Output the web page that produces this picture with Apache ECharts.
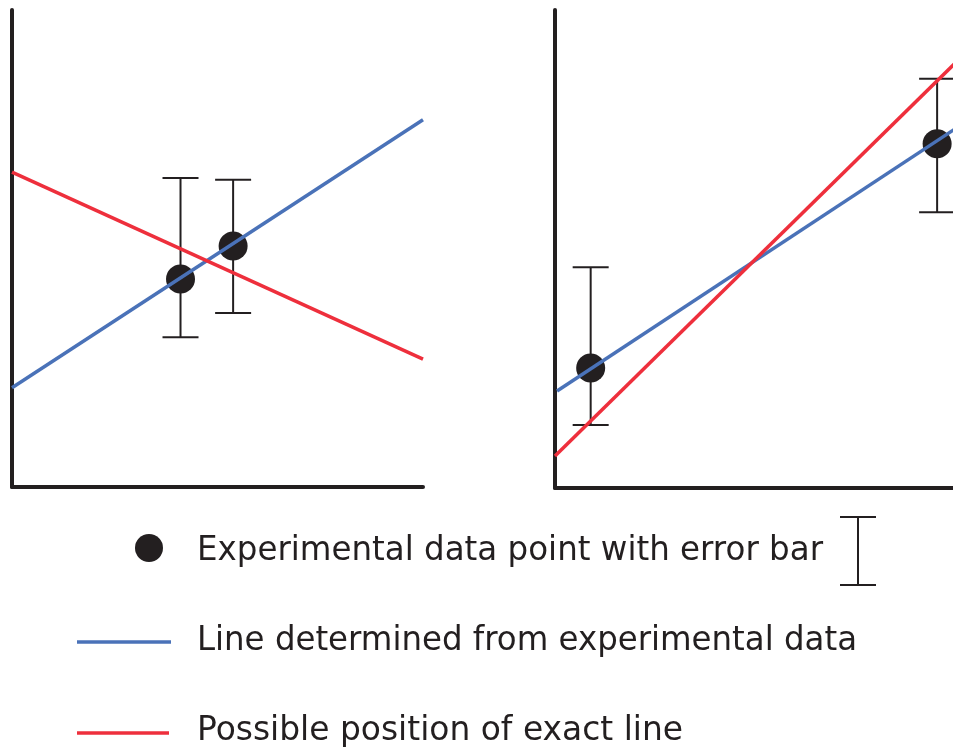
<!DOCTYPE html>
<html>
<head>
<meta charset="utf-8">
<script src="https://cdn.jsdelivr.net/npm/echarts@6/dist/echarts.min.js"></script>
<style>
html,body{margin:0;padding:0;background:#fff;}
#chart{width:953px;height:750px;}
</style>
</head>
<body>
<div id="chart"></div>
<script>
// ---- Data (axis units 0..100) ----
// Left panel
const leftPoints = [[41.0, 43.6], [53.8, 50.5]];
const leftErrors = [[41.0, 31.4, 64.8], [53.8, 36.5, 64.4]];
const leftFitLine = [[0, 20.8], [100, 77.0]];
const leftExactLine = [[0, 66.0], [100, 26.8]];
// Right panel
const rightPoints = [[8.7, 25.1], [93.2, 72.0]];
const rightErrors = [[8.7, 13.2, 46.2], [93.2, 57.7, 85.6]];
const rightFitLine = [[0.5, 20.3], [100, 76.5]];
const rightExactLine = [[0, 6.7], [100, 90.9]];
// Legend texts
const legendTexts = [
  'Experimental data point with error bar',
  'Line determined from experimental data',
  'Possible position of exact line'
];

const BLACK = '#231f20';
const BLUE = '#4a72b8';
const RED = '#ee2f3c';
const FONT = '"DejaVu Sans", sans-serif';
const FONT_SIZE = 34;

function errorRender(params, api) {
  const x = api.value(0);
  const lo = api.coord([x, api.value(1)]);
  const hi = api.coord([x, api.value(2)]);
  const hw = 18;
  const st = { stroke: BLACK, lineWidth: 2 };
  return {
    type: 'group',
    children: [
      { type: 'line', shape: { x1: lo[0], y1: lo[1], x2: hi[0], y2: hi[1] }, style: st },
      { type: 'line', shape: { x1: lo[0] - hw, y1: lo[1], x2: lo[0] + hw, y2: lo[1] }, style: st },
      { type: 'line', shape: { x1: hi[0] - hw, y1: hi[1], x2: hi[0] + hw, y2: hi[1] }, style: st }
    ]
  };
}

function axisPair(gridIndex) {
  const common = {
    gridIndex: gridIndex, type: 'value', min: 0, max: 100,
    axisLine: { show: true, onZero: false, lineStyle: { color: BLACK, width: 4 } },
    axisTick: { show: false }, axisLabel: { show: false }, splitLine: { show: false }
  };
  return [Object.assign({}, common), Object.assign({}, common)];
}

const [x0, y0] = axisPair(0);
const [x1, y1] = axisPair(1);

// text scale to match reference widths
const targetWidths = [626, 660, 486];
const ctx = document.createElement('canvas').getContext('2d');
ctx.font = FONT_SIZE + 'px ' + FONT;
const scales = legendTexts.map((t, i) => targetWidths[i] / ctx.measureText(t).width);

const textYs = [551, 641, 731];

const chart = echarts.init(document.getElementById('chart'), null, { renderer: 'canvas' });
chart.setOption({
  animation: false,
  backgroundColor: '#ffffff',
  grid: [
    { left: 12, top: 10, width: 411, height: 477, outerBoundsMode: 'none', containLabel: false },
    { left: 555, top: 10, width: 410, height: 478, outerBoundsMode: 'none', containLabel: false }
  ],
  xAxis: [x0, x1],
  yAxis: [y0, y1],
  series: [
    { type: 'custom', xAxisIndex: 0, yAxisIndex: 0, renderItem: errorRender, data: leftErrors, z: 2, clip: false },
    { type: 'custom', xAxisIndex: 1, yAxisIndex: 1, renderItem: errorRender, data: rightErrors, z: 2, clip: false },
    { type: 'scatter', xAxisIndex: 0, yAxisIndex: 0, data: leftPoints, symbolSize: 29, itemStyle: { color: BLACK, opacity: 1 }, z: 3 },
    { type: 'scatter', xAxisIndex: 1, yAxisIndex: 1, data: rightPoints, symbolSize: 29, itemStyle: { color: BLACK, opacity: 1 }, z: 3 },
    { type: 'line', xAxisIndex: 0, yAxisIndex: 0, data: leftFitLine, showSymbol: false, lineStyle: { color: BLUE, width: 3.5 }, z: 4, clip: false },
    { type: 'line', xAxisIndex: 0, yAxisIndex: 0, data: leftExactLine, showSymbol: false, lineStyle: { color: RED, width: 3.5 }, z: 4, clip: false },
    { type: 'line', xAxisIndex: 1, yAxisIndex: 1, data: rightFitLine, showSymbol: false, lineStyle: { color: BLUE, width: 3.5 }, z: 4, clip: false },
    { type: 'line', xAxisIndex: 1, yAxisIndex: 1, data: rightExactLine, showSymbol: false, lineStyle: { color: RED, width: 3.5 }, z: 4, clip: false }
  ],
  graphic: [
    { type: 'circle', shape: { cx: 149, cy: 548, r: 14 }, style: { fill: BLACK } },
    { type: 'line', shape: { x1: 858, y1: 517, x2: 858, y2: 585 }, style: { stroke: BLACK, lineWidth: 2 } },
    { type: 'line', shape: { x1: 840, y1: 517, x2: 876, y2: 517 }, style: { stroke: BLACK, lineWidth: 2 } },
    { type: 'line', shape: { x1: 840, y1: 585, x2: 876, y2: 585 }, style: { stroke: BLACK, lineWidth: 2 } },
    { type: 'line', shape: { x1: 77, y1: 642, x2: 171, y2: 642 }, style: { stroke: BLUE, lineWidth: 3.5 } },
    { type: 'line', shape: { x1: 77, y1: 733, x2: 169, y2: 733 }, style: { stroke: RED, lineWidth: 3.5 } },
    ...legendTexts.map((t, i) => ({
      type: 'text', x: 197, y: textYs[i], scaleX: scales[i],
      style: { text: t, fill: BLACK, font: FONT_SIZE + 'px ' + FONT, textAlign: 'left', textVerticalAlign: 'middle' }
    }))
  ]
});
</script>
</body>
</html>
